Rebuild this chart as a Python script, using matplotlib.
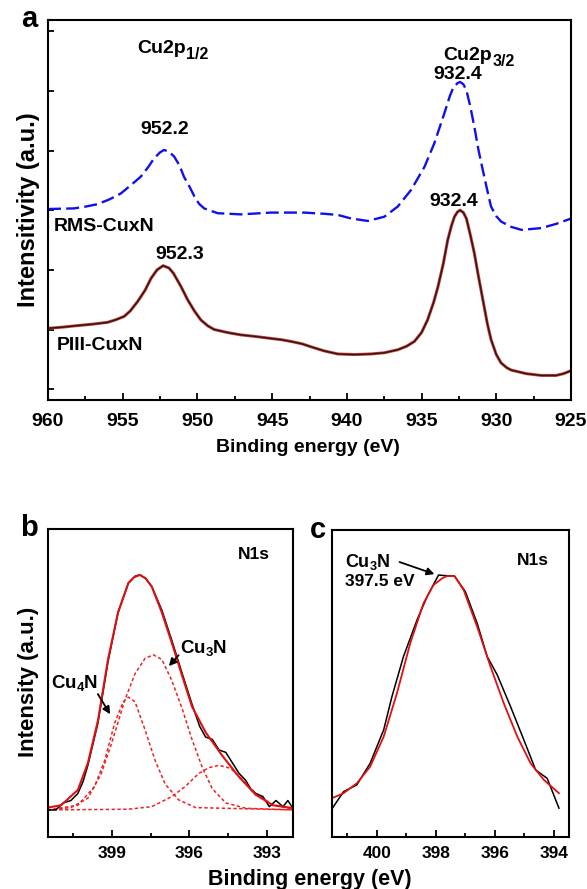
import matplotlib
matplotlib.use("Agg")
import matplotlib.pyplot as plt
from matplotlib.ticker import MultipleLocator, NullLocator, FixedLocator
from matplotlib.transforms import offset_copy

plt.rcParams['font.family'] = ['Liberation Sans', 'DejaVu Sans']
plt.rcParams['font.weight'] = 'bold'
plt.rcParams['mathtext.fontset'] = 'custom'
plt.rcParams['mathtext.rm'] = 'Liberation Sans:bold'
plt.rcParams['mathtext.bf'] = 'Liberation Sans:bold'
plt.rcParams['mathtext.it'] = 'Liberation Sans:bold'

# ---------------- Panel a data (Cu2p) ----------------
piii_energy = [960.0, 959.0, 958.26, 957.0, 956.02, 955.5, 954.9, 954.5, 954.0, 953.5,
               953.1, 952.7, 952.3, 951.9, 951.6, 951.1, 950.66, 950.2, 949.77, 949.3,
               948.88, 948.0, 947.1, 946.0, 945.08, 944.4, 943.74, 943.0, 942.4, 941.5,
               940.6, 939.5, 938.39, 937.5, 936.6, 936.0, 935.48, 935.0, 934.6, 934.2,
               933.9, 933.55, 933.25, 933.0, 932.8, 932.6, 932.42, 932.2, 932.0, 931.75,
               931.47, 931.2, 930.9, 930.6, 930.35, 930.0, 929.68, 929.3, 929.0, 928.0,
               927.0, 926.0, 925.5, 925.0]
piii_intensity = [1.02, 1.04, 1.06, 1.09, 1.12, 1.16, 1.22, 1.31, 1.47, 1.66,
                  1.86, 2.00, 2.07, 2.03, 1.94, 1.72, 1.50, 1.31, 1.16, 1.06,
                  1.00, 0.95, 0.91, 0.88, 0.85, 0.83, 0.80, 0.76, 0.71, 0.64,
                  0.59, 0.58, 0.59, 0.61, 0.66, 0.72, 0.80, 0.95, 1.16, 1.45,
                  1.72, 2.10, 2.50, 2.74, 2.89, 2.97, 3.00, 2.96, 2.86, 2.60,
                  2.28, 1.90, 1.50, 1.10, 0.83, 0.58, 0.44, 0.36, 0.32, 0.26,
                  0.23, 0.23, 0.26, 0.31]

rms_energy = [960.0, 958.26, 957.5, 956.7, 955.9, 955.13, 954.5, 953.8, 953.3, 952.9,
              952.5, 952.23, 951.9, 951.56, 951.2, 950.9, 950.5, 950.2, 949.9, 949.55,
              948.65, 947.1, 945.08, 942.85, 941.5, 940.6, 939.7, 938.6, 937.5, 936.6,
              935.7, 934.8, 934.15, 933.48, 933.1, 932.9, 932.6, 932.42, 932.2, 932.0,
              931.75, 931.47, 931.2, 930.9, 930.6, 930.35, 930.0, 929.68, 929.0, 928.3,
              927.0, 926.0, 925.0]
rms_intensity = [3.02, 3.03, 3.06, 3.10, 3.18, 3.28, 3.41, 3.56, 3.72, 3.87,
                 3.97, 4.01, 3.98, 3.90, 3.75, 3.56, 3.38, 3.23, 3.11, 3.03,
                 2.95, 2.93, 2.96, 2.96, 2.94, 2.92, 2.86, 2.82, 2.89, 3.06,
                 3.34, 3.73, 4.12, 4.62, 4.92, 5.04, 5.13, 5.15, 5.11, 5.01,
                 4.75, 4.40, 4.02, 3.67, 3.33, 3.06, 2.90, 2.81, 2.72, 2.67,
                 2.70, 2.77, 2.86]

a_xticks = [960, 955, 950, 945, 940, 935, 930, 925]

# ---------------- Panel b data (N1s, PIII) ----------------
b_exp_energy = [401.5, 401.18, 400.9, 400.6, 400.33, 400.13, 399.94, 399.55, 399.16, 398.77,
                398.37, 398.1, 397.92, 397.7, 397.46, 397.07, 396.68, 396.28, 395.9, 395.6,
                395.37, 395.11, 394.85, 394.59, 394.33, 394.07, 393.81, 393.6, 393.42, 393.15,
                392.9, 392.64, 392.37, 392.18, 391.98]
b_exp_intensity = [0.00, 0.00, 0.03, 0.04, 0.07, 0.12, 0.19, 0.37, 0.63, 0.84,
                   0.965, 0.995, 1.00, 0.985, 0.95, 0.85, 0.72, 0.58, 0.45, 0.355,
                   0.31, 0.30, 0.255, 0.245, 0.20, 0.155, 0.125, 0.085, 0.07, 0.057,
                   0.014, 0.04, 0.014, 0.04, 0.007]

b_fit_energy = [401.5, 400.98, 400.33, 399.94, 399.55, 399.16, 398.77, 398.37, 398.15, 397.92,
                397.7, 397.46, 397.07, 396.68, 396.28, 395.9, 395.37, 394.72, 394.07, 393.42,
                392.76, 391.92]
b_fit_intensity = [0.01, 0.02, 0.085, 0.20, 0.38, 0.64, 0.84, 0.965, 0.99, 1.00,
                   0.985, 0.95, 0.84, 0.71, 0.57, 0.44, 0.33, 0.23, 0.14, 0.064,
                   0.02, 0.007]

cu4n_energy = [401.5, 400.33, 399.68, 399.29, 398.9, 398.57, 398.37, 398.11, 397.72, 397.33,
               396.94, 396.42, 395.76, 391.92]
cu4n_intensity = [0.0, 0.02, 0.10, 0.21, 0.37, 0.46, 0.48, 0.46, 0.34, 0.21,
                  0.11, 0.043, 0.01, 0.0]

cu3n_energy = [401.5, 400.6, 399.94, 399.42, 399.03, 398.5, 398.11, 397.72, 397.4, 397.07,
               396.68, 396.28, 395.9, 395.5, 395.11, 394.59, 393.81, 391.92]
cu3n_intensity = [0.0, 0.01, 0.05, 0.155, 0.28, 0.47, 0.58, 0.645, 0.66, 0.64,
                  0.55, 0.43, 0.30, 0.18, 0.09, 0.03, 0.007, 0.0]

p3_energy = [401.5, 398.37, 397.46, 396.68, 396.16, 395.64, 395.24, 394.85, 394.4, 393.94,
             393.42, 392.76, 391.92]
p3_intensity = [0.0, 0.003, 0.014, 0.057, 0.10, 0.155, 0.18, 0.19, 0.177, 0.128,
                0.07, 0.02, 0.003]

b_xticks = [399, 396, 393]

# ---------------- Panel c data (N1s, RMS) ----------------
c_exp_energy = [401.53, 401.13, 400.68, 400.23, 399.77, 399.49, 399.1, 398.64, 398.3, 397.91,
                397.74, 397.37, 397.0, 396.6, 396.26, 395.92, 395.47, 395.02, 394.62, 394.23,
                393.83]
c_exp_intensity = [0.105, 0.172, 0.198, 0.28, 0.408, 0.535, 0.688, 0.828, 0.917, 1.0,
                   0.998, 0.996, 0.936, 0.815, 0.688, 0.618, 0.497, 0.37, 0.255, 0.223,
                   0.109]

c_fit_energy = [401.53, 401.13, 400.68, 400.23, 399.77, 399.32, 398.87, 398.42, 398.08, 397.79,
                397.62, 397.37, 397.06, 396.6, 396.15, 395.7, 395.24, 394.79, 394.34, 393.83]
c_fit_intensity = [0.147, 0.166, 0.204, 0.267, 0.382, 0.548, 0.739, 0.892, 0.962, 0.987,
                   0.996, 0.996, 0.943, 0.802, 0.65, 0.51, 0.382, 0.28, 0.217, 0.166]

c_xticks = [400, 398, 396, 394]

# ---------------- Figure ----------------
W, H = 587, 889
fig = plt.figure(figsize=(W / 100, H / 100), dpi=100)


def rect(l, t, r, b):
    return [l / W, 1 - b / H, (r - l) / W, (b - t) / H]


def style_axes(ax):
    for s in ax.spines.values():
        s.set_linewidth(1.5)
        s.set_color('black')


def sub_label(ax, x, y, main, sub, fs, fs_sub, drop):
    """main text ending at x, subscript starting at x and dropped by `drop` px."""
    ax.text(x, y, main, ha='right', va='baseline', fontsize=fs, fontweight='bold')
    tr = offset_copy(ax.transData, fig=ax.figure, x=0.5, y=-drop, units='dots')
    ax.text(x, y, sub, ha='left', va='baseline', fontsize=fs_sub, fontweight='bold',
            transform=tr)


# Panel a
axa = fig.add_axes(rect(48, 20.5, 571, 400.5))
style_axes(axa)
axa.plot(piii_energy, piii_intensity, color='#c24a40', lw=2.2, solid_joinstyle='round')
axa.plot(piii_energy, piii_intensity, color='#3a1210', lw=1.1, solid_joinstyle='round')
axa.plot(rms_energy, rms_intensity, color='#1010ee', lw=1.7, linestyle=(0, (5.5, 2.2)))
axa.set_xlim(960, 925)
axa.set_ylim(-0.19, 6.18)
axa.xaxis.set_major_locator(FixedLocator(a_xticks))
axa.xaxis.set_minor_locator(MultipleLocator(2.5))
axa.yaxis.set_major_locator(MultipleLocator(1))
axa.set_yticklabels([])
axa.tick_params(axis='x', which='major', direction='in', length=5, width=1.3,
                labelsize=14, pad=9, top=False)
axa.tick_params(axis='x', which='minor', direction='in', length=3, width=1.3, top=False)
axa.tick_params(axis='y', which='major', direction='in', length=4, width=1.3, right=False)
for lab in axa.get_xticklabels():
    lab.set_fontweight('bold')

fs = 14
sub_label(axa, 950.8, 5.64, 'Cu2p', '1/2', 14, 11.5, 6.5)
sub_label(axa, 930.3, 5.52, 'Cu2p', '3/2', 14, 11.5, 6.5)
axa.text(932.55, 5.27, '932.4', ha='center', va='center', fontsize=fs, fontweight='bold')
axa.text(952.2, 4.36, '952.2', ha='center', va='center', fontsize=fs, fontweight='bold')
axa.text(932.86, 3.14, '932.4', ha='center', va='center', fontsize=fs, fontweight='bold')
axa.text(959.64, 2.72, 'RMS-CuxN', ha='left', va='center', fontsize=fs, fontweight='bold')
axa.text(951.2, 2.25, '952.3', ha='center', va='center', fontsize=fs, fontweight='bold')
axa.text(959.42, 0.74, 'PIII-CuxN', ha='left', va='center', fontsize=fs, fontweight='bold')

fig.text(29.5 / W, 1 - 19 / H, 'a', ha='center', va='center', fontsize=21, fontweight='bold')
fig.text(29 / W, 1 - 210 / H, 'Intensitivity (a.u.)', ha='center', va='center',
         rotation=90, fontsize=17, fontweight='bold')
fig.text(308 / W, 1 - 447 / H, 'Binding energy (eV)', ha='center', va='center',
         fontsize=14, fontweight='bold')

# Panel b
axb = fig.add_axes(rect(47.7, 529.3, 292.5, 836.5))
style_axes(axb)
dot = (0, (2.2, 1.6))
axb.plot(cu4n_energy, cu4n_intensity, color='#ee2222', lw=1.1, linestyle=dot)
axb.plot(cu3n_energy, cu3n_intensity, color='#ee2222', lw=1.1, linestyle=dot)
axb.plot(p3_energy, p3_intensity, color='#ee2222', lw=1.1, linestyle=dot)
axb.plot(b_exp_energy, b_exp_intensity, color='black', lw=1.1)
axb.plot(b_fit_energy, b_fit_intensity, color='#e01010', lw=1.5)
axb.set_xlim(401.5, 392.0)
axb.set_ylim(-0.113, 1.194)
axb.xaxis.set_major_locator(FixedLocator(b_xticks))
axb.xaxis.set_minor_locator(MultipleLocator(1.5))
axb.yaxis.set_major_locator(NullLocator())
axb.tick_params(axis='x', which='major', direction='in', length=5, width=1.3,
                labelsize=12.5, pad=7, top=False)
axb.tick_params(axis='x', which='minor', direction='in', length=3, width=1.3, top=False)
for lab in axb.get_xticklabels():
    lab.set_fontweight('bold')

axb.text(400.46, 0.54, r'Cu$_{\mathregular{4}}$N', ha='center', va='center', fontsize=13.5, fontweight='bold')
axb.annotate('', xy=(399.02, 0.397), xytext=(399.61, 0.503),
             arrowprops=dict(arrowstyle='-|>', color='black', lw=1.3, mutation_scale=11))
axb.text(395.44, 0.688, r'Cu$_{\mathregular{3}}$N', ha='center', va='center', fontsize=13.5, fontweight='bold')
axb.annotate('', xy=(396.87, 0.603), xytext=(396.35, 0.667),
             arrowprops=dict(arrowstyle='-|>', color='black', lw=1.3, mutation_scale=11))
axb.text(393.51, 1.085, 'N1s', ha='center', va='center', fontsize=12.5, fontweight='bold')

fig.text(29 / W, 1 - 528 / H, 'b', ha='center', va='center', fontsize=21, fontweight='bold')
fig.text(28.7 / W, 1 - 682 / H, 'Intensity (a.u.)', ha='center', va='center',
         rotation=90, fontsize=16, fontweight='bold')

# Panel c
axc = fig.add_axes(rect(332.3, 530, 569, 836.7))
style_axes(axc)
axc.plot(c_exp_energy, c_exp_intensity, color='black', lw=1.1)
axc.plot(c_fit_energy, c_fit_intensity, color='#e01010', lw=1.3)
axc.set_xlim(401.51, 393.49)
axc.set_ylim(0.0, 1.172)
axc.xaxis.set_major_locator(FixedLocator(c_xticks))
axc.xaxis.set_minor_locator(MultipleLocator(1))
axc.yaxis.set_major_locator(NullLocator())
axc.tick_params(axis='x', which='major', direction='in', length=5, width=1.3,
                labelsize=12.5, pad=7, top=False)
axc.tick_params(axis='x', which='minor', direction='in', length=3, width=1.3, top=False)
for lab in axc.get_xticklabels():
    lab.set_fontweight('bold')

axc.text(401.08, 1.051, r'Cu$_{\mathregular{3}}$N', ha='left', va='center', fontsize=13, fontweight='bold')
axc.text(401.08, 0.974, '397.5 eV', ha='left', va='center', fontsize=12.5, fontweight='bold')
axc.annotate('', xy=(397.96, 1.0), xytext=(399.32, 1.053),
             arrowprops=dict(arrowstyle='-|>', color='black', lw=1.3, mutation_scale=11))
axc.text(394.71, 1.057, 'N1s', ha='center', va='center', fontsize=12.5, fontweight='bold')

fig.text(317.5 / W, 1 - 530 / H, 'c', ha='center', va='center', fontsize=21, fontweight='bold')
fig.text(310 / W, 1 - 880 / H, 'Binding energy (eV)', ha='center', va='center',
         fontsize=15.5, fontweight='bold')

fig.savefig('out.png', dpi=100)
